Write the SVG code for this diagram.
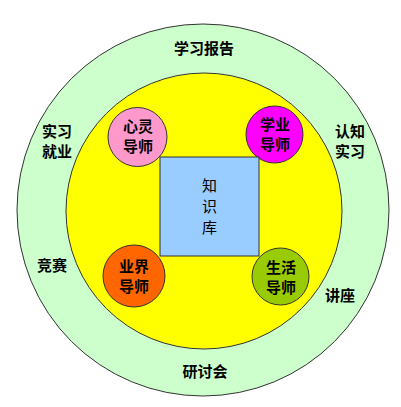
<svg xmlns="http://www.w3.org/2000/svg" width="401" height="407" viewBox="0 0 401 407">
<style>
.t{font-family:"Noto Sans CJK SC","Noto Sans CJK TC",sans-serif;font-size:15px;font-weight:bold;fill:#000;text-anchor:middle}
.n{font-weight:normal}
.s{stroke:#333;stroke-width:1}
</style>
<rect width="401" height="407" fill="#fff"/>
<g id="outer"><circle class="s" cx="203" cy="210" r="186" fill="#CCFFCC"/></g>
<g id="inner"><circle class="s" cx="204" cy="211" r="138" fill="#FFFF00"/></g>
<g id="connectors"></g>
<g id="labels">
<text class="t" x="204" y="54">学习报告</text>
<text class="t" x="57" y="137">实习</text>
<text class="t" x="57" y="157">就业</text>
<text class="t" x="350" y="137">认知</text>
<text class="t" x="350" y="157">实习</text>
<text class="t" x="52" y="271">竞赛</text>
<text class="t" x="340" y="301">讲座</text>
<text class="t" x="205" y="377">研讨会</text>
</g>
<g id="xinling"><circle class="s" cx="137.5" cy="137" r="29.5" fill="#FF99CC"/>
<text class="t" x="138" y="132">心灵</text><text class="t" x="138" y="152">导师</text></g>
<g id="xueye"><circle class="s" cx="274.5" cy="134.5" r="28.5" fill="#FF00FF"/>
<text class="t" x="275" y="130">学业</text><text class="t" x="275" y="150">导师</text></g>
<g id="zhishiku"><rect class="s" x="160" y="157" width="99" height="99" fill="#99CCFF"/>
<text class="t n" x="209.5" y="191">知</text><text class="t n" x="209.5" y="212">识</text><text class="t n" x="209.5" y="233">库</text></g>
<g id="yejie"><circle class="s" cx="134" cy="276" r="31" fill="#FF6600"/>
<text class="t" x="134" y="272">业界</text><text class="t" x="134" y="292">导师</text></g>
<g id="shenghuo"><circle class="s" cx="280.5" cy="276.5" r="28.5" fill="#99CC00"/>
<text class="t" x="281" y="273">生活</text><text class="t" x="281" y="293">导师</text></g>
</svg>
